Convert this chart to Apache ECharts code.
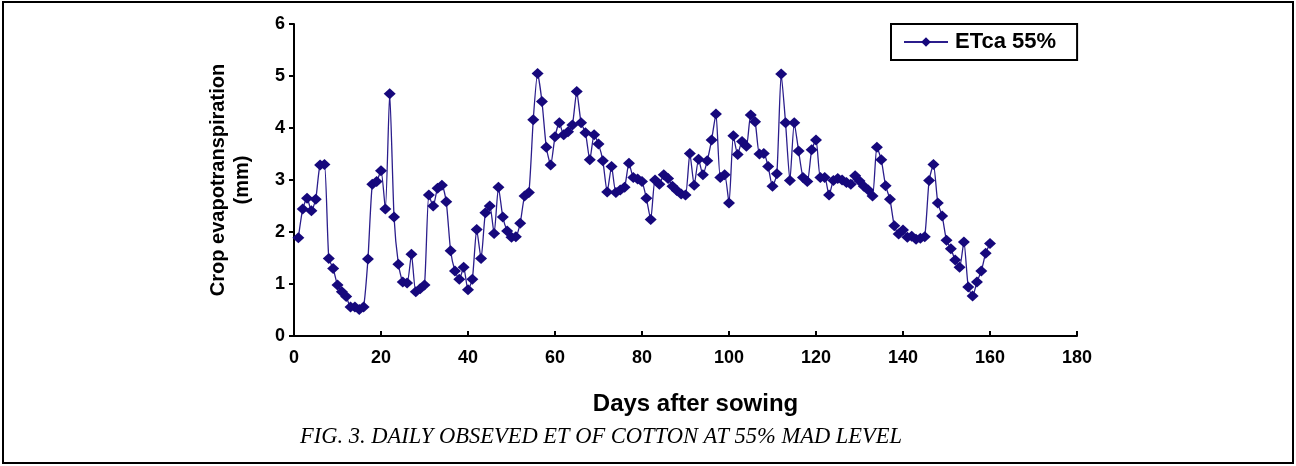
<!DOCTYPE html>
<html>
<head>
<meta charset="utf-8">
<script src="https://cdn.jsdelivr.net/npm/echarts@6/dist/echarts.min.js"></script>
<style>
  html, body { margin: 0; padding: 0; background: #fff; }
  #chart { width: 1296px; height: 466px; }
</style>
</head>
<body>
<div id="chart"></div>
<script>
// days after sowing (1..160) and the daily ETca at 55% MAD
const days = []
for (let d = 1; d <= 160; d++) days.push(d)

const etca55 = [
  1.89, 2.44, 2.65, 2.41, 2.63, 3.29, 3.30, 1.49, 1.30, 0.98,
  0.85, 0.76, 0.56, 0.56, 0.51, 0.56, 1.48, 2.92, 2.97, 3.18,
  2.44, 4.66, 2.29, 1.38, 1.04, 1.02, 1.57, 0.85, 0.91, 0.98,
  2.71, 2.50, 2.84, 2.90, 2.58, 1.64, 1.25, 1.09, 1.32, 0.89,
  1.09, 2.05, 1.49, 2.37, 2.50, 1.97, 2.86, 2.29, 2.02, 1.90,
  1.91, 2.17, 2.69, 2.76, 4.16, 5.05, 4.51, 3.63, 3.29, 3.83,
  4.10, 3.87, 3.93, 4.06, 4.70, 4.10, 3.91, 3.39, 3.87, 3.69,
  3.37, 2.77, 3.26, 2.76, 2.81, 2.86, 3.32, 3.05, 3.02, 2.97,
  2.65, 2.24, 3.00, 2.92, 3.10, 3.03, 2.88, 2.80, 2.73, 2.71,
  3.51, 2.90, 3.40, 3.10, 3.37, 3.77, 4.27, 3.05, 3.10, 2.56,
  3.85, 3.49, 3.74, 3.65, 4.25, 4.12, 3.50, 3.51, 3.26, 2.88,
  3.12, 5.04, 4.10, 2.99, 4.10, 3.56, 3.05, 2.97, 3.58, 3.77,
  3.05, 3.05, 2.71, 2.99, 3.03, 3.00, 2.95, 2.92, 3.08, 2.98,
  2.88, 2.81, 2.69, 3.63, 3.39, 2.89, 2.63, 2.12, 1.96, 2.04,
  1.90, 1.92, 1.86, 1.88, 1.91, 2.99, 3.30, 2.56, 2.31, 1.84,
  1.68, 1.46, 1.32, 1.81, 0.94, 0.77, 1.04, 1.25, 1.59, 1.78
]

const xTicks = [0, 180, 20]   // min, max, step
const yTicks = [0, 6, 1]

const navy = '#16087c'
const sans = '"Liberation Sans", Arial, sans-serif'

let myChart = echarts.init(document.getElementById('chart'))
let option = {
  animation: false,
  backgroundColor: '#fff',
  grid: { left: 294, right: 219, top: 24, bottom: 130 },
  graphic: [
    // outer frame of the figure
    {
      type: 'rect',
      shape: { x: 3, y: 2, width: 1290, height: 461 },
      style: { fill: 'none', stroke: '#000', lineWidth: 2 }
    },
    {
      type: 'text',
      left: 300,
      top: 426,
      style: {
        text: 'FIG. 3. DAILY OBSEVED ET OF COTTON AT 55% MAD LEVEL',
        font: 'italic 22.5px "Liberation Serif", "Times New Roman", serif',
        fill: '#000'
      }
    }
  ],
  legend: {
    data: ['ETca 55%'],
    left: 891,
    top: 24,
    padding: [7, 21, 7, 12],
    itemWidth: 44,
    itemHeight: 12,
    borderColor: '#000',
    borderWidth: 2,
    borderRadius: 0,
    textStyle: {
      fontFamily: sans,
      fontWeight: 'bold',
      fontSize: 22,
      color: '#000',
      padding: [0, 0, 0, 2]
    }
  },
  xAxis: {
    type: 'value',
    min: xTicks[0],
    max: xTicks[1],
    interval: xTicks[2],
    name: 'Days after sowing',
    nameLocation: 'middle',
    nameGap: 56,
    nameTextStyle: {
      fontFamily: sans,
      fontWeight: 'bold',
      fontSize: 24,
      color: '#000',
      padding: [0, 0, 0, 20]
    },
    axisLine: { lineStyle: { color: '#000', width: 2 } },
    axisTick: { inside: true, length: 5, lineStyle: { color: '#000', width: 2 } },
    splitLine: { show: false },
    axisLabel: {
      margin: 13,
      fontFamily: '"Liberation Sans Narrow", "Liberation Sans", Arial, sans-serif',
      fontWeight: 'bold',
      fontSize: 18,
      color: '#000'
    }
  },
  yAxis: {
    type: 'value',
    min: yTicks[0],
    max: yTicks[1],
    interval: yTicks[2],
    name: 'Crop evapotranspiration\n(mm)',
    nameLocation: 'middle',
    nameGap: 40,
    nameTextStyle: {
      fontFamily: sans,
      fontWeight: 'bold',
      fontSize: 20,
      lineHeight: 24,
      color: '#000'
    },
    axisLine: { show: true, lineStyle: { color: '#000', width: 2 } },
    axisTick: { show: true, length: 5, lineStyle: { color: '#000', width: 2 } },
    splitLine: { show: false },
    axisLabel: {
      margin: 9,
      fontFamily: sans,
      fontWeight: 'bold',
      fontSize: 18,
      color: '#000'
    }
  },
  series: [
    {
      name: 'ETca 55%',
      type: 'line',
      data: days.map((d, i) => [d, etca55[i]]),
      smooth: 0.2,
      symbol: 'diamond',
      symbolSize: [12, 11],
      showAllSymbol: true,
      itemStyle: { color: navy, borderWidth: 0 },
      lineStyle: { color: '#2b1d8c', width: 1.3 }
    }
  ]
}
myChart.setOption(option)
</script>
</body>
</html>
